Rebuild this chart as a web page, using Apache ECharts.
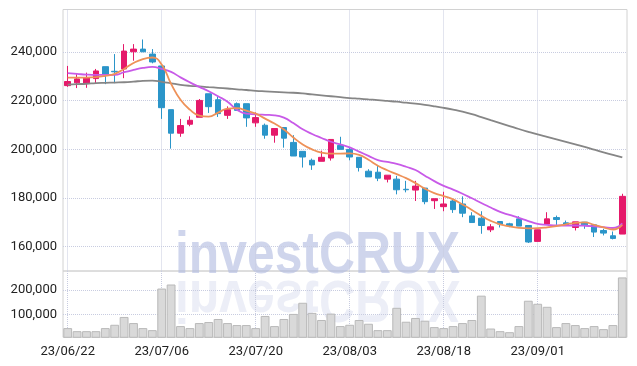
<!DOCTYPE html>
<html>
<head>
<meta charset="utf-8">
<script src="https://cdn.jsdelivr.net/npm/echarts@6/dist/echarts.min.js"></script>
<style>
  html, body { margin: 0; padding: 0; background: #fff; }
  #chart { width: 637px; height: 366px; }
</style>
</head>
<body>
<div id="chart"></div>
<script>
const dates = [
  '23/06/22', '23/06/23', '23/06/26', '23/06/27', '23/06/28', '23/06/29', '23/06/30', '23/07/03', '23/07/04', '23/07/05',
  '23/07/06', '23/07/07', '23/07/10', '23/07/11', '23/07/12', '23/07/13', '23/07/14', '23/07/17', '23/07/18', '23/07/19',
  '23/07/20', '23/07/21', '23/07/24', '23/07/25', '23/07/26', '23/07/27', '23/07/28', '23/07/31', '23/08/01', '23/08/02',
  '23/08/03', '23/08/04', '23/08/07', '23/08/08', '23/08/09', '23/08/10', '23/08/11', '23/08/14', '23/08/16', '23/08/17',
  '23/08/18', '23/08/21', '23/08/22', '23/08/23', '23/08/24', '23/08/25', '23/08/28', '23/08/29', '23/08/30', '23/08/31',
  '23/09/01', '23/09/04', '23/09/05', '23/09/06', '23/09/07', '23/09/08', '23/09/11', '23/09/12', '23/09/13', '23/09/14'
];
const opens = [
  226200, 227350, 227060, 229100, 234000, 232100, 233060, 240120, 241220, 239180,
  234290, 216330, 206650, 210330, 213200, 222860, 220410, 214000, 218780, 218780,
  210900, 209920, 205840, 208980, 202860, 199180, 195510, 195100, 196450, 201630,
  200000, 196730, 191020, 190610, 187760, 187760, 183600, 183270, 184080, 178900,
  176450, 178780, 177550, 172650, 171710, 166940, 170340, 169400, 171430, 168700,
  162170, 169270, 171970, 169800, 167880, 170070, 168980, 166650, 164490, 165180
];
const closes = [
  227900, 228980, 229510, 232240, 230740, 231900, 240410, 241220, 240120, 235920,
  217140, 206650, 209800, 211960, 220120, 217550, 214690, 216330, 216040, 212940,
  213060, 205840, 208570, 204610, 197270, 196860, 193590, 196730, 204080, 200000,
  196860, 192530, 188690, 188160, 189390, 183390, 183400, 184900, 178500, 179710,
  177550, 175240, 173760, 169920, 168700, 168160, 169270, 168700, 168450, 161920,
  166940, 171430, 171160, 168700, 170200, 168980, 166000, 165580, 163390, 180690
];
const lows = [
  225700, 225200, 225300, 227220, 226820, 227220, 229270, 236450, 240000, 235380,
  212530, 200290, 205180, 209510, 213200, 214980, 213330, 212530, 216000, 209270,
  209270, 204370, 202740, 200700, 197270, 192530, 191560, 195100, 195390, 200000,
  195510, 190900, 188690, 186940, 186410, 181510, 182330, 178780, 177430, 175510,
  174570, 173880, 172120, 169920, 165310, 166000, 167890, 168000, 168450, 161510,
  162170, 169270, 168980, 168700, 166650, 167350, 163960, 164620, 163000, 165180
];
const highs = [
  234300, 230900, 231550, 233060, 234000, 239180, 243270, 243270, 245180, 241220,
  234500, 216330, 212530, 213600, 220690, 222860, 221760, 217670, 219300, 218780,
  215200, 210610, 208570, 208980, 205840, 199180, 196210, 199470, 204080, 205180,
  200700, 196730, 191840, 193590, 189390, 189110, 187060, 187060, 184080, 179710,
  182570, 179590, 180690, 174160, 174570, 169270, 170340, 169800, 172530, 168700,
  166940, 174160, 172780, 170740, 170200, 170070, 168980, 167350, 166240, 181750
];
// moving averages
const ma5 = [
  229510, 229510, 229510, 229670, 230200, 231020, 233060, 235510, 237140, 237760,
  234900, 226940, 220410, 216330, 213880, 213470, 215100, 216730, 216940, 215920,
  214690, 212650, 210610, 208160, 204900, 202040, 200000, 198650, 198240, 198240,
  198370, 197760, 195710, 193270, 191430, 189800, 188160, 186120, 183880, 182040,
  180820, 179470, 177350, 175100, 172650, 170610, 169180, 168370, 167760, 167550,
  167630, 167960, 168450, 169180, 169800, 170000, 168980, 167960, 167060, 168980
];
const ma20 = [
  231310, 231020, 230730, 230610, 230610, 230610, 231710, 232650, 233470, 233880,
  233060, 231840, 229590, 227550, 225710, 223880, 221840, 219590, 216330, 214690,
  214420, 214200, 214000, 213060, 210820, 208240, 206330, 204690, 203140, 202040,
  200820, 199060, 197350, 195590, 194820, 194000, 192860, 191510, 189180, 186940,
  184980, 183470, 181760, 179880, 177960, 176120, 174290, 173060, 171840, 170530,
  169390, 168980, 168700, 168700, 168700, 168610, 168370, 168040, 167680, 169590
];
const ma60 = [
  226650, 226820, 226980, 227220, 227350, 227470, 227590, 227840, 228160, 228240,
  227760, 227140, 226530, 226120, 225880, 225590, 225310, 225020, 224690, 224410,
  224080, 223840, 223630, 223430, 223270, 222980, 222570, 222200, 221840, 221470,
  221100, 220820, 220530, 220250, 219920, 219590, 219180, 218780, 218290, 217710,
  217060, 216330, 215510, 214490, 213270, 212040, 210820, 209590, 208370, 207220,
  206120, 205100, 204080, 203060, 202040, 201020, 199880, 198780, 197760, 196730
];
const volumes = [
  45300, 32900, 32900, 32900, 45300, 58800, 90500, 65800, 45300, 37000,
  205800, 222200, 53500, 45300, 65800, 69900, 82300, 65800, 57600, 57600,
  45300, 94600, 53500, 82300, 102900, 148100, 107000, 78200, 104100, 53500,
  58800, 78200, 63000, 37000, 37000, 127600, 71200, 86400, 75300, 49400,
  45300, 53500, 65800, 78200, 176900, 43600, 32900, 28800, 53500, 156400,
  144000, 131700, 49400, 65800, 57600, 45300, 53500, 41200, 57600, 251000
];
const priceTicks = [160000, 180000, 200000, 220000, 240000];
const volumeTicks = [100000, 200000];

const upColor = '#e5196a';
const downColor = '#2b95c9';
const gridLine = { show: true, lineStyle: { color: '#c8cce0', type: 'dotted', width: 1 } };
const labelFont = { fontFamily: 'Roboto', fontSize: 13, color: '#222' };
const mark = 'investCRUX';

let chart = echarts.init(document.getElementById('chart'));
chart.setOption({
  animation: false,
  backgroundColor: '#fff',
  grid: [
    { left: 63, right: 10, top: 9.5, height: 261.5, show: true, borderColor: '#d2d2d2', borderWidth: 1 },
    { left: 63, right: 10, top: 271, height: 66.3, show: true, borderColor: '#d2d2d2', borderWidth: 1 }
  ],
  graphic: [
    {
      type: 'text', x: 175, y: 256, scaleX: 0.83, silent: true, z: 0,
      style: { text: mark, font: 'bold 60px "Liberation Sans"', fill: 'rgba(178,188,224,0.62)', verticalAlign: 'middle' }
    },
    {
      type: 'text', x: 175, y: 298, scaleX: 0.83, scaleY: -1, silent: true, z: 0,
      style: { text: mark, font: 'bold 60px "Liberation Sans"', fill: 'rgba(178,188,224,0.25)', verticalAlign: 'middle' }
    }
  ],
  xAxis: [
    {
      type: 'category', gridIndex: 0, data: dates,
      axisLine: { show: false }, axisTick: { show: false }, axisLabel: { show: false },
      splitLine: Object.assign({ interval: 9, alignWithLabel: true }, gridLine)
    },
    {
      type: 'category', gridIndex: 1, data: dates,
      axisLine: { show: false }, axisTick: { show: false },
      axisLabel: Object.assign({ interval: 9, margin: 8 }, labelFont),
      splitLine: Object.assign({ interval: 9, alignWithLabel: true }, gridLine)
    }
  ],
  yAxis: [
    {
      type: 'value', gridIndex: 0, min: 150000, max: 257500, scale: true,
      axisLine: { show: false }, axisTick: { show: false, customValues: priceTicks },
      axisLabel: Object.assign({ customValues: priceTicks, margin: 6, formatter: v => v.toLocaleString('en-US') }, labelFont),
      splitLine: gridLine
    },
    {
      type: 'value', gridIndex: 1, min: 8000, max: 277000,
      axisLine: { show: false }, axisTick: { show: false, customValues: volumeTicks },
      axisLabel: Object.assign({ customValues: volumeTicks, margin: 6 }, labelFont),
      splitLine: gridLine
    }
  ],
  series: [
    {
      type: 'candlestick', xAxisIndex: 0, yAxisIndex: 0, barWidth: 6,
      data: dates.map((d, i) => [opens[i], closes[i], lows[i], highs[i]]),
      itemStyle: { color: upColor, color0: downColor, borderColor: upColor, borderColor0: downColor, borderWidth: 1 }
    },
    {
      type: 'line', xAxisIndex: 0, yAxisIndex: 0, data: ma60, smooth: true, symbol: 'none',
      lineStyle: { color: '#868686', width: 1.8 }
    },
    {
      type: 'line', xAxisIndex: 0, yAxisIndex: 0, data: ma20, smooth: true, symbol: 'none',
      lineStyle: { color: '#c85ae8', width: 1.8 }
    },
    {
      type: 'line', xAxisIndex: 0, yAxisIndex: 0, data: ma5, smooth: true, symbol: 'none',
      lineStyle: { color: '#ee9158', width: 1.8 }
    },
    {
      type: 'bar', xAxisIndex: 1, yAxisIndex: 1, data: volumes, barCategoryGap: '6%',
      itemStyle: { color: '#d9d9d9', borderColor: '#b9b9b9', borderWidth: 1 }
    }
  ]
});
</script>
</body>
</html>
